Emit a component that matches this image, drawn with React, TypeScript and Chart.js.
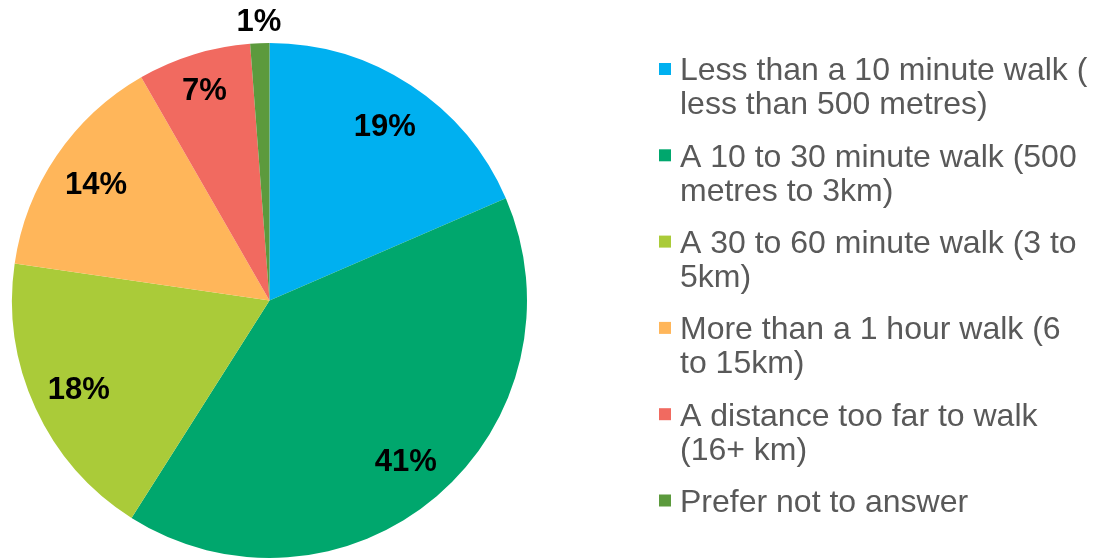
import React, { useEffect, useRef } from "react";
import { Chart, registerables } from "chart.js";

Chart.register(...registerables);

const categories: string[][] = [
  ["Less than a 10 minute walk (", "less than 500 metres)"],
  ["A 10 to 30 minute walk (500", "metres to 3km)"],
  ["A 30 to 60 minute walk (3 to", "5km)"],
  ["More than a 1 hour walk (6", "to 15km)"],
  ["A distance too far to walk", "(16+ km)"],
  ["Prefer not to answer"],
];
const values: number[] = [18.5, 40.5, 18.3, 14.4, 7.1, 1.2];
const colors: string[] = ["#00B0F0", "#00A76D", "#AACB39", "#FFB65A", "#F16A60", "#5C9A3D"];

const FONT = "Arial, 'Liberation Sans', sans-serif";
const CAP = 0.716;

const pieLabels = {
  id: "pieLabels",
  afterDatasetsDraw(chart: any) {
    const ctx = chart.ctx;
    const meta = chart.getDatasetMeta(0);
    const ds = chart.data.datasets[0];
    const size = 31;
    ctx.save();
    ctx.font = `bold ${size}px ${FONT}`;
    ctx.fillStyle = "#000";
    ctx.textAlign = "center";
    ctx.textBaseline = "alphabetic";
    meta.data.forEach((arc: any, i: number) => {
      const v = ds.data[i] as number;
      const { x, y, startAngle, endAngle, outerRadius } = arc.getProps(
        ["x", "y", "startAngle", "endAngle", "outerRadius"],
        true
      );
      const mid = (startAngle + endAngle) / 2;
      const r = v < 3 ? outerRadius + 23 : v < 10 ? outerRadius * 0.86 : outerRadius * 0.815;
      const cx = x + Math.cos(mid) * r;
      const cy = y + Math.sin(mid) * r;
      ctx.fillText(Math.round(v) + "%", cx, cy + (CAP * size) / 2);
    });
    ctx.restore();
  },
};

const sideLegend = {
  id: "sideLegend",
  afterDraw(chart: any) {
    const ctx = chart.ctx;
    const labels = chart.data.labels as string[][];
    const bg = chart.data.datasets[0].backgroundColor as string[];
    const size = 32;
    const x0 = 659;
    const tx = 680;
    let y = 69;
    const lineH = 34;
    const gap = 18.3;
    ctx.save();
    ctx.font = `${size}px ${FONT}`;
    ctx.textAlign = "left";
    ctx.textBaseline = "alphabetic";
    labels.forEach((lines, i) => {
      ctx.fillStyle = bg[i];
      ctx.fillRect(x0, y - 6, 12, 12);
      ctx.fillStyle = "#595959";
      lines.forEach((ln, j) => {
        ctx.fillText(ln, tx, y + j * lineH + (CAP * size) / 2);
      });
      y += lines.length * lineH + gap;
    });
    ctx.restore();
  },
};

export default function App() {
  const ref = useRef<HTMLCanvasElement>(null);
  useEffect(() => {
    if (!ref.current) return;
    const chart = new Chart(ref.current, {
      type: "pie",
      data: {
        labels: categories as any,
        datasets: [
          {
            data: values,
            backgroundColor: colors,
            borderWidth: 0,
          },
        ],
      },
      options: {
        animation: false,
        responsive: false,
        layout: { padding: { top: 43, bottom: 1, left: 12, right: 573 } },
        plugins: {
          legend: { display: false },
          tooltip: { enabled: false },
        },
      },
      plugins: [pieLabels, sideLegend],
    });
    return () => chart.destroy();
  }, []);
  return (
    <div style={{ position: "absolute", left: 0, top: 0, width: 1100, height: 559, background: "#fff" }}>
      <canvas ref={ref} width={1100} height={559} style={{ width: 1100, height: 559 }} />
    </div>
  );
}
